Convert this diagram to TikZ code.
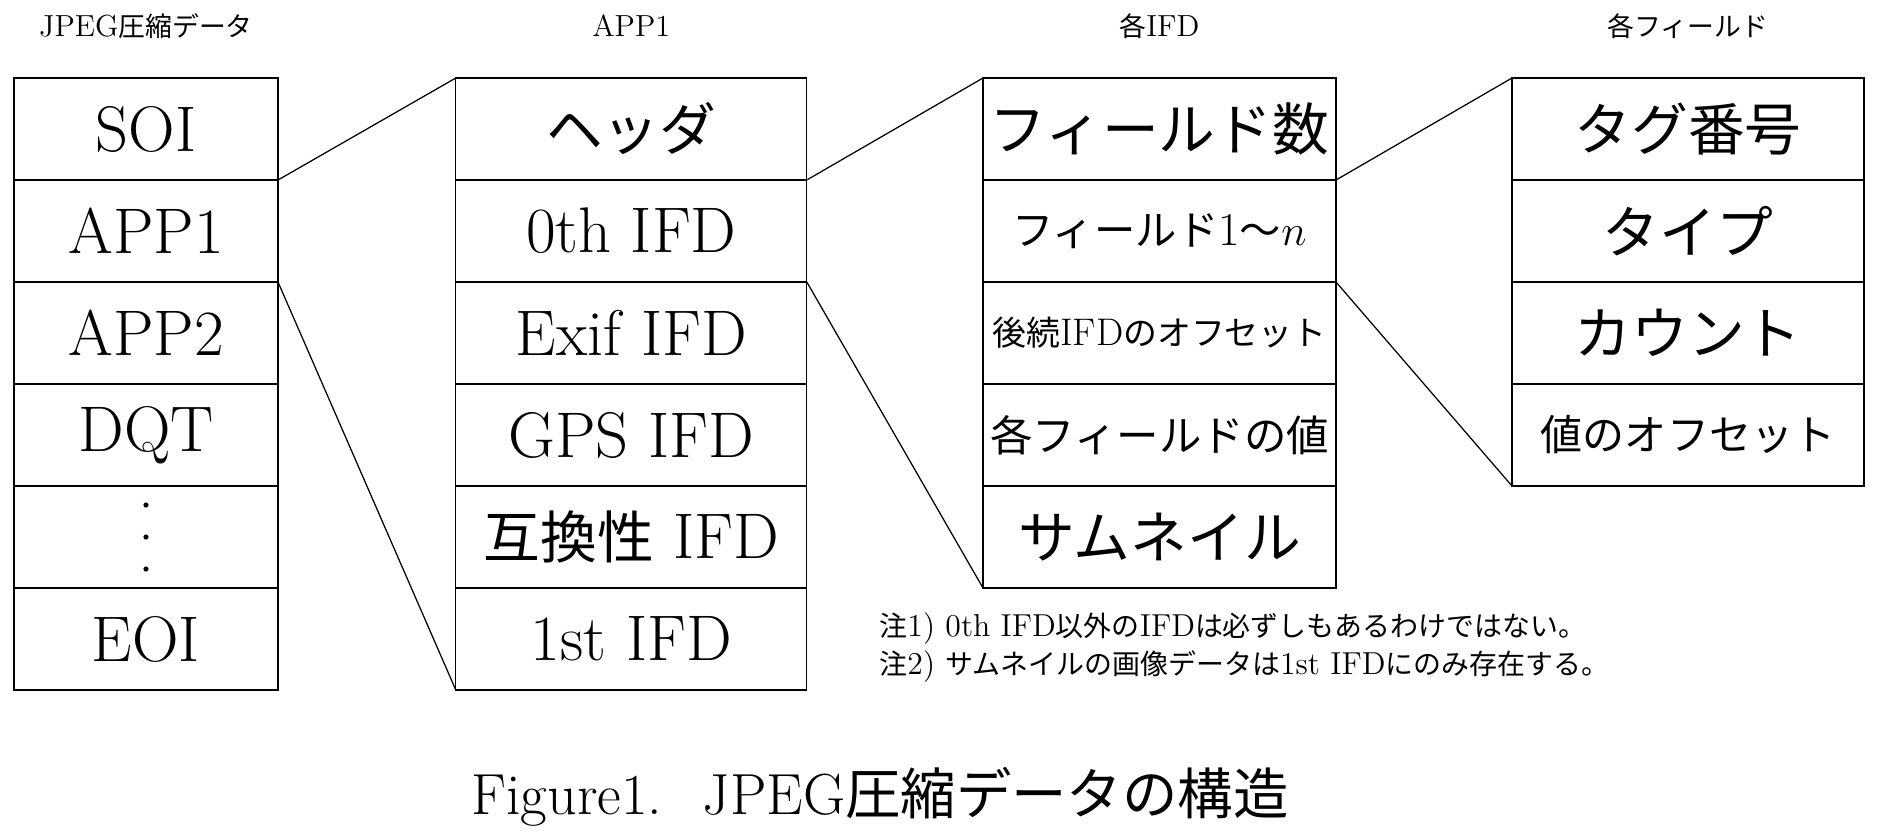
\documentclass[tikz,border=0pt]{standalone}
\usepackage{fontspec}
\newfontfamily\jpfont[Scale=0.88]{Noto Sans CJK JP}
\newcommand{\jtxt}[1]{{\jpfont #1}}
\begin{document}
\begin{tikzpicture}[x=0.4pt,y=-0.4pt,
  cell/.style={draw, line width=0.5pt, outer sep=0pt, inner sep=0pt,
    minimum height=40.8pt, font=\fontsize{25.8}{30}\selectfont},
  colA/.style={cell, minimum width=105.6pt},
  colB/.style={cell, minimum width=140.4pt},
  colC/.style={cell, minimum width=141.2pt},
  colD/.style={cell, minimum width=140.8pt},
  head/.style={font=\fontsize{12.2}{14}\selectfont},
  note/.style={anchor=west, inner sep=0pt, font=\fontsize{12.7}{15}\selectfont},
  conn/.style={line width=0.5pt},
  vdot/.style={fill=black, draw=none}]
\useasboundingbox (0,0) rectangle (1880,840);

% headers
\node[head] (hA) at (146,26) {JPEG\jtxt{圧縮データ}};
\node[head] (hB) at (631.3,26) {APP1};
\node[head] (hC) at (1159.5,26) {\jtxt{各}IFD};
\node[head] (hD) at (1688,26) {\jtxt{各フィールド}};

% column 1
\node[colA] (soi)  at (146,129) {SOI};
\node[colA] (app1) at (146,231) {APP1};
\node[colA] (app2) at (146,333) {APP2};
\node[colA] (dqt)  at (146,435) {DQT};
\node[colA] (dotc) at (146,537) {};
\node[colA] (eoi)  at (146,639) {EOI};
\fill[vdot] (dotc.center) ++(0,-32) circle (2.6);
\fill[vdot] (dotc.center) circle (2.6);
\fill[vdot] (dotc.center) ++(0,32) circle (2.6);

% column 2
\node[colB] (hdr)    at (631.3,129) {\jtxt{ヘッダ}};
\node[colB] (ifd0)   at (631.3,231) {0th IFD};
\node[colB] (exif)   at (631.3,333) {Exif IFD};
\node[colB] (gps)    at (631.3,435) {GPS IFD};
\node[colB] (compat) at (631.3,537) {\jtxt{互換性} IFD};
\node[colB] (ifd1)   at (631.3,639) {1st IFD};

% column 3
\node[colC] (fnum)   at (1159.5,129) {\jtxt{フィールド数}};
\node[colC, font=\fontsize{18.8}{22}\selectfont] (fields) at (1159.5,231) {\jtxt{フィールド}1\jtxt{〜}$n$};
\node[colC, font=\fontsize{15.4}{18}\selectfont] (nextifd) at (1159.5,333) {\jtxt{後続}IFD\jtxt{のオフセット}};
\node[colC, font=\fontsize{19.3}{22}\selectfont] (vals) at (1159.5,435) {\jtxt{各フィールドの値}};
\node[colC] (thumb)  at (1159.5,537) {\jtxt{サムネイル}};

% column 4
\node[colD] (tag)   at (1688,129) {\jtxt{タグ番号}};
\node[colD] (type)  at (1688,231) {\jtxt{タイプ}};
\node[colD] (count) at (1688,333) {\jtxt{カウント}};
\node[colD, font=\fontsize{19.1}{22}\selectfont] (voff) at (1688,435) {\jtxt{値のオフセット}};

% connectors
\draw[conn] (soi.south east) -- (hdr.north west);
\draw[conn] (app1.south east) -- (ifd1.south west);
\draw[conn] (hdr.south east) -- (fnum.north west);
\draw[conn] (ifd0.south east) -- (thumb.south west);
\draw[conn] (fnum.south east) -- (tag.north west);
\draw[conn] (fields.south east) -- (voff.south west);

% notes
\node[note] (n1) at (879,629) {\jtxt{注}1) 0th IFD\jtxt{以外の}IFD\jtxt{は必ずしもあるわけではない。}};
\node[note] (n2) at (879,667) {\jtxt{注}2) \jtxt{サムネイルの画像データは}1st IFD\jtxt{にのみ存在する。}};

% caption
\node[font=\fontsize{23.2}{27}\selectfont] (cap) at (880,797) {Figure1.\hspace{0.7em}JPEG{\fontsize{25.2}{27}\selectfont\jtxt{圧縮データの構造}}};
\end{tikzpicture}
\end{document}
